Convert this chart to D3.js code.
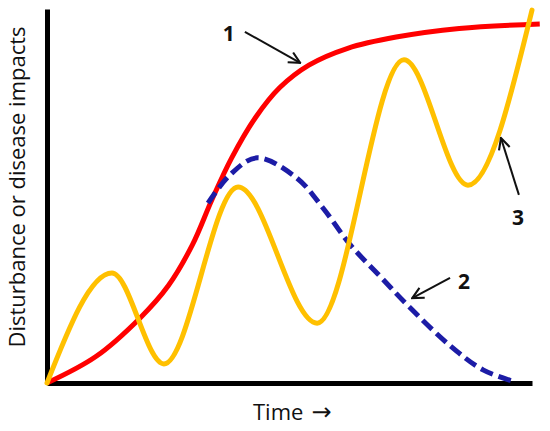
<!DOCTYPE html>
<html>
<head>
<meta charset="utf-8">
<script src="https://cdn.jsdelivr.net/npm/d3@7"></script>
<style>
  body { margin: 0; background: #fff; }
  svg { display: block; }
  .lbl { font-family: "Open Sans", sans-serif; fill: #111; }
  .num { font-family: "Open Sans", sans-serif; font-weight: bold; fill: #111; }
</style>
</head>
<body>
<svg id="chart" width="550" height="431"></svg>
<script>
// curve 1 - red sigmoid
var redTime   = [0, 10, 19.2, 25, 30, 34, 38, 43, 48, 54, 62, 72, 85, 101.6];
var redImpact = [0, 7, 17.4, 26, 37, 49, 60, 71, 79, 85, 89.5, 92.5, 94.8, 96];

// curve 2 - blue dashed
var blueTime   = [33.2, 37.7, 43.3, 51.5, 56.9, 62.5, 68.7, 74.2, 83.1, 89.9, 96.5];
var blueImpact = [48.1, 55.6, 60.2, 54.8, 46.8, 37, 28.5, 21, 10, 3.5, 0.3];

// curve 3 - orange wave (peaks and troughs)
var orangeTime   = [0, 13.4, 24.1, 39.4, 55.7, 73.6, 86.8, 100];
var orangeImpact = [0, 29.4, 5.1, 52.4, 16, 86.4, 52.9, 99.7];

// annotations: label, label pos, arrow start, arrow end (data units)
var noteLabels = ["1", "2", "3"];
var noteText   = [[37.5, 93.6], [86.0, 27.3], [97.1, 44.4]];
var noteFrom   = [[40.8, 93.9], [83.1, 28.1], [97.3, 50.3]];
var noteTo     = [[52.2, 85.6], [75.3, 22.7], [93.6, 65.5]];

var svg = d3.select("#chart");

var x = d3.scaleLinear().domain([0, 100]).range([47, 532]);
var y = d3.scaleLinear().domain([0, 100]).range([383, 9]);

function zip(a, b) {
    return a.map(function(v, i) { return [v, b[i]]; });
}

var smooth = d3.line()
    .x(function(d) { return x(d[0]); })
    .y(function(d) { return y(d[1]); })
    .curve(d3.curveCatmullRom.alpha(0.5));

// monotone keeps flat tops on every peak and trough
var wave = d3.line()
    .x(function(d) { return x(d[0]); })
    .y(function(d) { return y(d[1]); })
    .curve(d3.curveMonotoneX);

// axes without ticks
var xAxis = svg.append("g")
    .attr("transform", "translate(0," + y(0) + ")")
    .call(d3.axisBottom(x).ticks(0).tickSizeOuter(0));
xAxis.select(".domain").attr("stroke", "#000").attr("stroke-width", 5);

var yAxis = svg.append("g")
    .attr("transform", "translate(" + x(0) + ",0)")
    .call(d3.axisLeft(y).ticks(0).tickSizeOuter(0));
yAxis.select(".domain").attr("stroke", "#000").attr("stroke-width", 5);

// curves
svg.append("path")
    .attr("d", smooth(zip(redTime, redImpact)))
    .attr("fill", "none")
    .attr("stroke", "#ff0000")
    .attr("stroke-width", 5);

svg.append("path")
    .attr("d", smooth(zip(blueTime, blueImpact)))
    .attr("fill", "none")
    .attr("stroke", "#1c1ca6")
    .attr("stroke-width", 5)
    .attr("stroke-dasharray", "13,6");

svg.append("path")
    .attr("d", wave(zip(orangeTime, orangeImpact)))
    .attr("fill", "none")
    .attr("stroke", "#ffc000")
    .attr("stroke-width", 5)
    .attr("stroke-linecap", "round");

// arrow marker
svg.append("defs").append("marker")
    .attr("id", "head")
    .attr("viewBox", "0 0 10 10")
    .attr("refX", 9).attr("refY", 5)
    .attr("markerWidth", 7).attr("markerHeight", 7)
    .attr("orient", "auto")
  .append("path")
    .attr("d", "M1,1 L9,5 L1,9")
    .attr("fill", "none")
    .attr("stroke", "#111")
    .attr("stroke-width", 1.5);

for (var i = 0; i < noteLabels.length; i++) {
    svg.append("line")
        .attr("x1", x(noteFrom[i][0])).attr("y1", y(noteFrom[i][1]))
        .attr("x2", x(noteTo[i][0])).attr("y2", y(noteTo[i][1]))
        .attr("stroke", "#111")
        .attr("stroke-width", 2)
        .attr("marker-end", "url(#head)");
    svg.append("text")
        .attr("class", "num")
        .attr("x", x(noteText[i][0])).attr("y", y(noteText[i][1]))
        .attr("text-anchor", "middle")
        .attr("dominant-baseline", "central")
        .attr("font-size", 21)
        .text(noteLabels[i]);
}

// axis titles
svg.append("text")
    .attr("class", "lbl")
    .attr("transform", "translate(25,187) rotate(-90)")
    .attr("text-anchor", "middle")
    .attr("font-size", 22)
    .text("Disturbance or disease impacts");

var t = svg.append("text")
    .attr("class", "lbl")
    .attr("x", 253).attr("y", 420)
    .attr("font-size", 22);
t.append("tspan").text("Time");
t.append("tspan")
    .attr("dx", 8)
    .attr("font-family", "DejaVu Sans")
    .attr("font-size", 24)
    .text("\u2192");
</script>
</body>
</html>
